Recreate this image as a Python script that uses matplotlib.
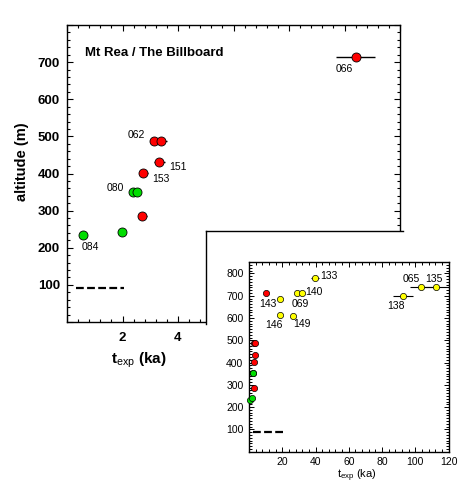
import numpy as np
import matplotlib
matplotlib.use('Agg')
from matplotlib import pyplot as plt
from matplotlib.ticker import MultipleLocator

plt.rcParams['font.family'] = ['Liberation Sans', 'DejaVu Sans']
plt.rcParams['mathtext.fontset'] = 'custom'
plt.rcParams['mathtext.rm'] = 'Liberation Sans'
plt.rcParams['mathtext.bf'] = 'Liberation Sans:bold'

# samples < 12 ka (texp in ka, altitude in m, x error in ka)
green_t = [0.59, 1.97, 2.39, 2.53]
green_alt = [234, 243, 351, 351]
green_err = [0.0, 0.1, 0.15, 0.15]

red_t = [2.72, 2.75, 3.32, 3.14, 3.40, 10.4]
red_alt = [286, 402, 432, 488, 488, 713]
red_err = [0.17, 0.17, 0.2, 0.15, 0.2, 0.7]

# older samples, only in the inset
yel_t = [18.6, 18.6, 26.6, 29.1, 32.1, 39.7, 92.8, 103.5, 112.5]
yel_alt = [684, 614, 609, 711, 714, 778, 700, 738, 738]
yel_err = [0.0, 0.0, 0.0, 0.0, 0.0, 2.4, 6.0, 6.6, 8.0]

main_labels = ['084', '080', '062', '151', '153', '066']
main_lab_t = [0.83, 1.73, 2.48, 4.0, 3.37, 10.0]
main_lab_alt = [203, 362, 504, 417, 384, 681]

inset_labels = ['143', '146', '149', '069', '140', '133', '065', '135', '138']
inset_lab_t = [11.2, 15.0, 32.1, 30.7, 39.3, 48.1, 97.3, 111.5, 88.4]
inset_lab_alt = [663, 569, 572, 663, 716, 789, 774, 774, 654]

bar_main_t = [0.32, 2.05]
bar_main_alt = [92, 92]
bar_inset_t = [2.6, 22.3]
bar_inset_alt = [90, 90]

W, H = 473, 498
fig = plt.figure(figsize=(W / 100, H / 100), dpi=100)

def box(l, t, r, b):
    return [l / W, 1 - b / H, (r - l) / W, (b - t) / H]

# main axes
ax = fig.add_axes(box(67, 25, 400, 322))
ax.set_xlim(0, 12)
ax.set_ylim(0, 800)
ax.errorbar(green_t, green_alt, xerr=green_err, fmt='o', color='k', ecolor='k', elinewidth=1,
            mfc='#00dd00', mec='k', mew=0.6, ms=6.5, capsize=0, zorder=3)
ax.errorbar(red_t, red_alt, xerr=red_err, fmt='o', color='k', ecolor='k', elinewidth=1,
            mfc='#ff0000', mec='k', mew=0.6, ms=6.5, capsize=0, zorder=3)
ax.plot(bar_main_t, bar_main_alt, color='k', lw=1.6, ls=(0, (3.5, 1.5)))
for s, t, a in zip(main_labels, main_lab_t, main_lab_alt):
    ax.text(t, a, s, fontsize=7.5, ha='center', va='center')
ax.text(3.13, 725, 'Mt Rea / The Billboard', fontsize=9.5, fontweight='bold', ha='center', va='center')

ax.set_xticks(np.arange(0, 13, 2))
ax.set_xticklabels(['', '2', '4', '', '', '', ''])
ax.set_yticks(np.arange(0, 801, 100))
ax.set_yticklabels([''] + [str(v) for v in range(100, 800, 100)] + [''])
ax.xaxis.set_minor_locator(MultipleLocator(0.4))
ax.yaxis.set_minor_locator(MultipleLocator(20))
ax.tick_params(which='both', direction='in', top=True, right=True, width=0.8)
ax.tick_params(which='major', length=4, labelsize=9.5, pad=5)
ax.tick_params(axis='x', which='major', pad=7)
ax.tick_params(which='minor', length=2.2)
for lab in ax.get_xticklabels() + ax.get_yticklabels():
    lab.set_fontweight('bold')
for sp in ax.spines.values():
    sp.set_linewidth(1.0)

fig.text(21.7 / W, 1 - 161.7 / H, 'altitude (m)', rotation=90, fontsize=10.5, fontweight='bold',
         ha='center', va='center')
fig.text(138.7 / W, 1 - 360 / H, r'$\mathbf{t}_{\mathrm{exp}}$ (ka)', fontsize=11, fontweight='bold',
         ha='center', va='center')

# white panel hiding the lower right corner of the main frame
pan = fig.add_axes(box(206, 231, 403, 324))
pan.set_xticks([])
pan.set_yticks([])
pan.spines['right'].set_visible(False)
pan.spines['bottom'].set_visible(False)
pan.spines['top'].set_linewidth(1.0)
pan.spines['left'].set_linewidth(1.0)

# inset with all samples
ins = fig.add_axes(box(249, 262.3, 448.5, 451.7))
ins.set_xlim(0, 120)
ins.set_ylim(0, 850)
ins.errorbar(green_t, green_alt, xerr=green_err, fmt='o', color='k', ecolor='k', elinewidth=0.8,
             mfc='#00dd00', mec='k', mew=0.5, ms=4.5, capsize=0, zorder=3, clip_on=False)
ins.errorbar(red_t, red_alt, xerr=red_err, fmt='o', color='k', ecolor='k', elinewidth=0.8,
             mfc='#ff0000', mec='k', mew=0.5, ms=4.5, capsize=0, zorder=3)
ins.errorbar(yel_t, yel_alt, xerr=yel_err, fmt='o', color='k', ecolor='k', elinewidth=0.8,
             mfc='#ffff00', mec='k', mew=0.5, ms=4.5, capsize=0, zorder=3)
ins.plot(bar_inset_t, bar_inset_alt, color='k', lw=1.6, ls=(0, (3.5, 1.5)))
for s, t, a in zip(inset_labels, inset_lab_t, inset_lab_alt):
    ins.text(t, a, s, fontsize=7.5, ha='center', va='center')
ins.set_xticks(np.arange(20, 121, 20))
ins.set_yticks(np.arange(100, 801, 100))
ins.xaxis.set_minor_locator(MultipleLocator(4))
ins.yaxis.set_minor_locator(MultipleLocator(12.5))
ins.tick_params(which='both', direction='in', top=True, right=True, width=0.7)
ins.tick_params(which='major', length=3.5, labelsize=7.5, pad=4)
ins.tick_params(which='minor', length=2)
for sp in ins.spines.values():
    sp.set_linewidth(1.0)
fig.text(356.7 / W, 1 - 476 / H, r'$\mathrm{t}_{\mathrm{exp}}$ (ka)', fontsize=8, ha='center', va='center')

fig.savefig('out.png', dpi=100)
